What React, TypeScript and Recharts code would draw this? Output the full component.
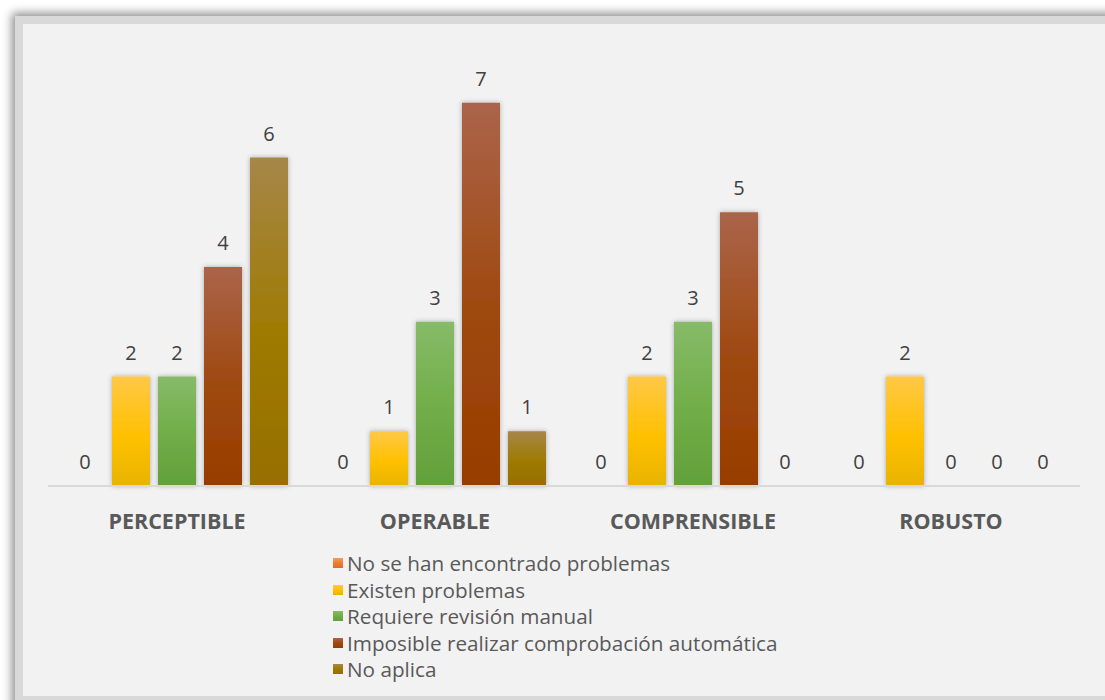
import { Bar, BarChart, LabelList, XAxis, YAxis } from "recharts";

const categories = ["PERCEPTIBLE", "OPERABLE", "COMPRENSIBLE", "ROBUSTO"];
const noProblemas = [0, 0, 0, 0];
const existenProblemas = [2, 1, 2, 2];
const revisionManual = [2, 3, 3, 0];
const imposibleAuto = [4, 7, 5, 0];
const noAplica = [6, 1, 0, 0];

const series = [
  { key: "noProblemas", name: "No se han encontrado problemas", values: noProblemas, stops: ["#f79a5e", "#ed7d31", "#dc6e24"] },
  { key: "existen", name: "Existen problemas", values: existenProblemas, stops: ["#ffc847", "#ffc000", "#e8b400"] },
  { key: "revision", name: "Requiere revisión manual", values: revisionManual, stops: ["#86bb68", "#70ad47", "#62a03a"] },
  { key: "imposible", name: "Imposible realizar comprobación automática", values: imposibleAuto, stops: ["#ab644a", "#9e480e", "#983d00"] },
  { key: "noAplica", name: "No aplica", values: noAplica, stops: ["#a68749", "#9e7a00", "#966f00"] }
];

const data = categories.map((c, i) => {
  const row: Record<string, string | number> = { category: c };
  series.forEach((s) => {
    row[s.key] = s.values[i];
  });
  return row;
});

const FONT = "'Open Sans', sans-serif";

export default function App() {
  return (
    <div style={{ position: "fixed", left: 0, top: 0, width: 1105, height: 700, background: "#ffffff", overflow: "hidden", fontFamily: FONT }}>
      <div
        style={{
          position: "absolute",
          left: 15,
          top: 16,
          width: 1120,
          height: 700,
          background: "#d9d9d9",
          boxShadow: "-3px -3px 9px rgba(0,0,0,0.45)"
        }}
      />
      <div style={{ position: "absolute", left: 23, top: 24, width: 1100, height: 672, background: "#f2f2f2" }} />
      <div style={{ position: "absolute", left: 0, top: 0 }}>
        <BarChart
          width={1105}
          height={700}
          data={data}
          margin={{ top: 48, right: 25, bottom: 154, left: 48 }}
          barSize={38}
          barGap={8}
        >
          <defs>
            {series.map((s) => (
              <linearGradient key={s.key} id={`grad-${s.key}`} x1="0" y1="0" x2="0" y2="1">
                <stop offset="0%" stopColor={s.stops[0]} />
                <stop offset="55%" stopColor={s.stops[1]} />
                <stop offset="100%" stopColor={s.stops[2]} />
              </linearGradient>
            ))}
            <filter id="barShadow" x="-30%" y="-10%" width="160%" height="120%">
              <feDropShadow dx="0" dy="0" stdDeviation="2.5" floodColor="#000000" floodOpacity="0.3" />
            </filter>
          </defs>
          <XAxis
            dataKey="category"
            axisLine={{ stroke: "#d9d9d9", strokeWidth: 2 }}
            tickLine={false}
            tickMargin={22}
            height={60}
            interval={0}
            tick={{ fill: "#595959", fontSize: 21.5, fontWeight: 700, fontFamily: FONT }}
          />
          <YAxis hide domain={[0, 8]} />
          {series.map((s) => (
            <Bar
              key={s.key}
              dataKey={s.key}
              name={s.name}
              fill={`url(#grad-${s.key})`}
              filter="url(#barShadow)"
              minPointSize={0.01}
              isAnimationActive={false}
            >
              <LabelList
                dataKey={s.key}
                position="top"
                offset={17}
                fill="#404040"
                fontSize={20}
                fontFamily={FONT}
              />
            </Bar>
          ))}
        </BarChart>
      </div>
      <div style={{ position: "absolute", left: 333, top: 550, color: "#595959", fontSize: 20.7, lineHeight: "26.5px" }}>
        {series.map((s) => (
          <div key={s.key} style={{ display: "flex", alignItems: "center", whiteSpace: "nowrap" }}>
            <span
              style={{
                display: "inline-block",
                width: 10,
                height: 10,
                marginRight: 4,
                background: `linear-gradient(${s.stops[0]}, ${s.stops[1]}, ${s.stops[2]})`
              }}
            />
            {s.name}
          </div>
        ))}
      </div>
    </div>
  );
}
